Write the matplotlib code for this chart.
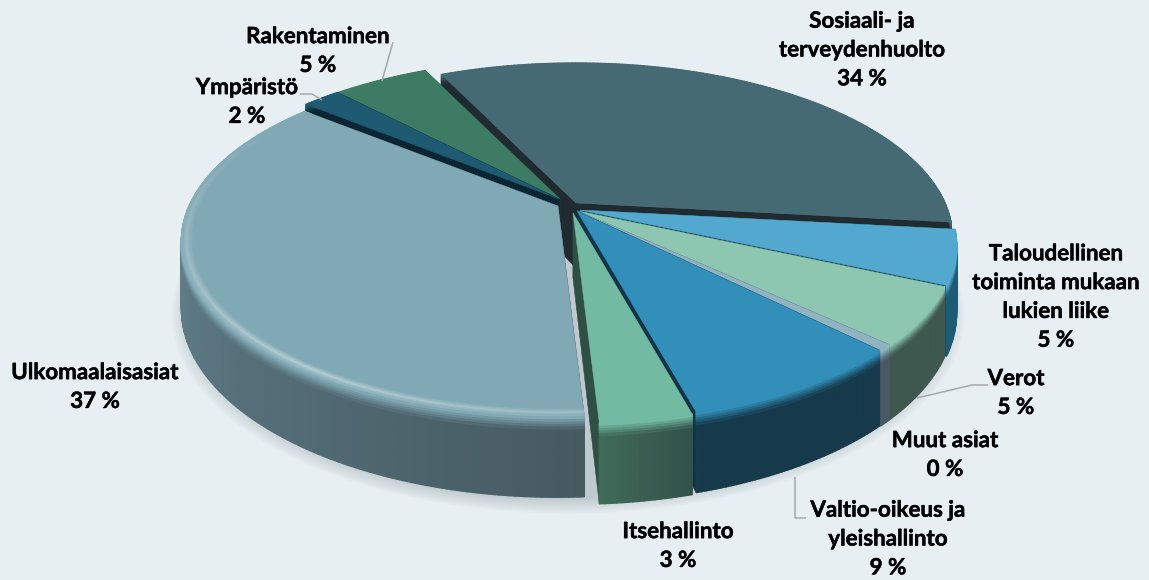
import matplotlib
matplotlib.use("Agg")
import matplotlib.pyplot as plt
import matplotlib.colors as mcolors
import matplotlib.patheffects as pe
from matplotlib.collections import PolyCollection
from matplotlib.patches import Polygon
import numpy as np

plt.rcParams["font.family"] = ["Lato", "DejaVu Sans"]

BG = "#e7eff2"

# clockwise from the cut at the upper left
names = ["Sosiaali- ja\nterveydenhuolto", "Taloudellinen\ntoiminta mukaan\nlukien liike", "Verot",
         "Muut asiat", "Valtio-oikeus ja\nyleishallinto", "Itsehallinto",
         "Ulkomaalaisasiat", "Ympäristö", "Rakentaminen"]
percents = [34, 5, 5, 0, 9, 3, 37, 2, 5]
# slice sizes as drawn (they differ a little from the rounded labels)
values = [34, 5, 5.3, 0.55, 8.25, 3.3, 37, 2, 5]

top_colors = ["#466a73", "#52a8cf", "#8dc6b1", "#8fb3c1", "#318fba", "#73baa2", "#81a9b5", "#1e5a72", "#3d7b64"]
wall_start = ["#1f2b30", "#1f5a74", "#3e5850", "#4b5865", "#16394b", "#33524a", "#465a62", "#0b2533", "#1d3a30"]
wall_end   = ["#1f2b30", "#1f5a74", "#3e5850", "#4b5865", "#17394c", "#3f6b58", "#7094a1", "#0b2533", "#1d3a30"]
cut_colors = ["#1f2b30", "#1a4a60", "#2f4a42", "#4b5560", "#123448", "#2f4e44", "#2f4048", "#0b2533", "#1d3a30"]
shift_x = [8, 12, 10, 10, 9, 5, -10, -9, -8]
shift_y = [0, 7, 8, 8, 8, 10, 3, -4, -4]
hilite = [0, 0, 0, 0, 0, 0, 0.42, 0, 0]
draw_order = [0, 8, 7, 6, 1, 2, 3, 4, 5]

START = -25.5
CX, CY = 568, 203
A, B = 369, 168
PERSP = 0.2
DEPTH = 65

# label centre x, centre y
label_pos = [(862, 50), (1056, 297), (1016, 393), (945, 455), (888, 539), (678, 546), (95, 387), (247, 102), (318, 51)]
leaders = [([393, 382], [42, 81]), ([300, 312, 322], [94, 94, 100]), ([988, 972, 917], [385, 385, 398]),
           ([806, 795, 795], [518, 518, 477])]


def project(x, y, z, dx=0, dy=0):
    w = 1 - PERSP * y
    return CX + A * x / w + dx, CY + (B * y + DEPTH * z) / w + dy


def arc(t0, t1, r=1.0, z=0.0, dx=0, dy=0, n=70):
    t = np.radians(np.linspace(t0, t1, n))
    return np.column_stack(project(r * np.sin(t), -r * np.cos(t), z, dx, dy))


def mix(c1, c2, f):
    return np.array(mcolors.to_rgb(c1)) * (1 - f) + np.array(mcolors.to_rgb(c2)) * f


fig = plt.figure(figsize=(11.49, 5.8), dpi=100, facecolor=BG)
ax = fig.add_axes([0, 0, 1, 1])
ax.set_xlim(0, 1149)
ax.set_ylim(580, 0)
ax.axis("off")

# soft shadow under the whole pie
for s in np.linspace(1.05, 1.0, 9):
    ax.add_patch(Polygon(arc(0, 360, r=s, z=1.0, dy=5, n=180), closed=True, fc="#7d8b90", ec="none", alpha=0.045))

edges = START + np.cumsum([0] + values) * 360 / sum(values)

for i in draw_order:
    t0, t1 = edges[i], edges[i + 1]
    dx, dy = shift_x[i], shift_y[i]
    n = max(6, int((t1 - t0) * 1.5))

    # radial cut walls
    apex_t = project(0, 0, 0, dx, dy)
    apex_b = project(0, 0, 1, dx, dy)
    for t in (t0, t1):
        a0 = arc(t, t, n=1)[0] + [dx, dy]
        a1 = arc(t, t, z=1.0, n=1)[0] + [dx, dy]
        ax.add_patch(Polygon([apex_t, a0, a1, apex_b], closed=True, fc=cut_colors[i], ec=cut_colors[i], lw=0.4))

    # outer rim, shaded along the arc and down the bevel
    zs = np.array([0, .03, .06, .09, .12, .16, .4, .7, 1.0])
    for j in range(len(zs) - 2, -1, -1):
        upper = arc(t0, t1, z=zs[j], dx=dx, dy=dy, n=n + 1)
        lower = arc(t0, t1, z=zs[j + 1], dx=dx, dy=dy, n=n + 1)
        quads, cols = [], []
        for k in range(n):
            quads.append([upper[k], upper[k + 1], lower[k + 1], lower[k]])
            wall = mix(wall_start[i], wall_end[i], k / n)
            f = min(1, zs[j] / 0.14)
            cols.append(mix(top_colors[i], wall, f))
        ax.add_collection(PolyCollection(quads, facecolors=cols, edgecolors=cols, linewidths=1.0,
                                         capstyle="butt", joinstyle="miter"))

    # top face
    top = np.vstack([[apex_t], arc(t0, t1, dx=dx, dy=dy, n=n + 1)])
    ax.add_patch(Polygon(top, closed=True, fc=top_colors[i], ec=top_colors[i], lw=0.3))

    # bright bevel line on the large slice, strongest on the near left
    if hilite[i] > 0:
        rs = np.linspace(0.97, 1.0, 7)
        for j in range(len(rs) - 1):
            p_in = arc(t0, t1, r=rs[j], dx=dx, dy=dy, n=n + 1)
            p_out = arc(t0, t1, r=rs[j + 1], dx=dx, dy=dy, n=n + 1)
            quads, cols = [], []
            ts = np.linspace(t0, t1, n + 1)
            for k in range(n):
                fade = np.clip(1 - abs(ts[k] - 215) / 85, 0, 1)
                f = hilite[i] * fade * max(1 - abs(rs[j] - 0.985) / 0.016, 0)
                quads.append([p_in[k], p_in[k + 1], p_out[k + 1], p_out[k]])
                cols.append(mix(top_colors[i], "white", f))
            ax.add_collection(PolyCollection(quads, facecolors=cols, edgecolors=cols, linewidths=0.5))

for lx, ly in leaders:
    ax.plot(lx, ly, color="#a8a8a8", lw=1.1, solid_capstyle="butt")

for name, p, (x, y) in zip(names, percents, label_pos):
    t = ax.text(x, y, f"{name}\n{p} %", ha="center", va="center", fontsize=16.1,
                fontweight="bold", color="black", linespacing=1.46)
    t.set_path_effects([pe.withStroke(linewidth=0.35, foreground="black")])

fig.savefig("out.png", dpi=100, facecolor=BG)
